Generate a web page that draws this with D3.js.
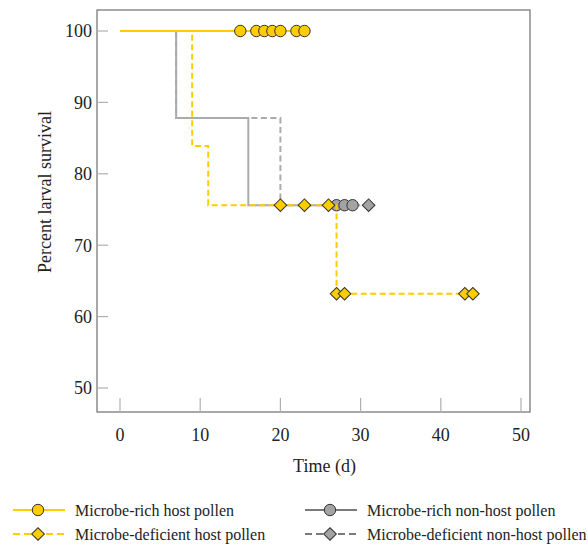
<html>
<head>
<script src="https://d3js.org/d3.v7.min.js"></script>
<style>
  body { margin: 0; background: #fff; }
</style>
</head>
<body>
<svg id="chart" width="588" height="545" font-family="'Liberation Serif', 'Times New Roman', Times, serif"></svg>
<script>
// survival curves: step times and percent surviving after each step
const richHostTimes = [0];
const richHostSurv = [100];
const richHostEnd = 23;
const richHostCensor = [15, 17, 18, 19, 20, 22, 23];

const defHostTimes = [0, 9, 11, 27];
const defHostSurv = [100, 83.9, 75.6, 63.2];
const defHostEnd = 44;
const defHostCensor = [20, 23, 26, 27, 28, 43, 44];

const richNonHostTimes = [0, 7, 16];
const richNonHostSurv = [100, 87.8, 75.6];
const richNonHostEnd = 29;
const richNonHostCensor = [27, 28, 29];

const defNonHostTimes = [0, 7, 20];
const defNonHostSurv = [100, 87.8, 75.6];
const defNonHostEnd = 31;
const defNonHostCensor = [31];

const xTicks = [0, 10, 20, 30, 40, 50];
const yTicks = [50, 60, 70, 80, 90, 100];

const yellow = "#ffcc00";
const grayLine = "#ababab";
const grayFill = "#a3a3a3";
const serif = "'Liberation Serif', 'Times New Roman', Times, serif";

const svg = d3.select("#chart");
const frame = { left: 97, right: 530, top: 10, bottom: 412 };

const x = d3.scaleLinear().domain([0, 50]).range([120, 521]);
const y = d3.scaleLinear().domain([50, 100]).range([388, 31]);

// frame
svg.append("rect")
    .attr("x", frame.left).attr("y", frame.top)
    .attr("width", frame.right - frame.left).attr("height", frame.bottom - frame.top)
    .style("fill", "none").style("stroke", "#7a7a7a").style("stroke-width", 1.3);

// ticks drawn inside the frame
svg.selectAll("line.ytick").data(yTicks).join("line")
    .attr("class", "ytick")
    .attr("x1", frame.left).attr("x2", frame.left + 11)
    .attr("y1", d => y(d)).attr("y2", d => y(d))
    .style("stroke", "#b0b0b0").style("stroke-width", 1.2);
svg.selectAll("text.ylab").data(yTicks).join("text")
    .attr("class", "ylab")
    .attr("x", 92).attr("y", d => y(d)).attr("dy", "0.35em")
    .attr("text-anchor", "end")
    .attr("font-family", serif).attr("font-size", 18).attr("fill", "#222")
    .text(d => d);

svg.selectAll("line.xtick").data(xTicks).join("line")
    .attr("class", "xtick")
    .attr("x1", d => x(d)).attr("x2", d => x(d))
    .attr("y1", frame.bottom).attr("y2", frame.bottom - 14)
    .style("stroke", "#b0b0b0").style("stroke-width", 1.2);
svg.selectAll("text.xlab").data(xTicks).join("text")
    .attr("class", "xlab")
    .attr("x", d => x(d)).attr("y", 441)
    .attr("text-anchor", "middle")
    .attr("font-family", serif).attr("font-size", 18).attr("fill", "#222")
    .text(d => d);

svg.append("text")
    .attr("x", x(25) + 4).attr("y", 472)
    .attr("text-anchor", "middle")
    .attr("font-family", serif).attr("font-size", 18).attr("fill", "#222")
    .text("Time (d)");
svg.append("text")
    .attr("transform", "translate(51,192) rotate(-90)")
    .attr("text-anchor", "middle")
    .attr("font-family", serif).attr("font-size", 18).attr("fill", "#222")
    .text("Percent larval survival");

// helpers
function stepPoints(times, surv, end) {
    const pts = times.map((t, i) => [t, surv[i]]);
    pts.push([end, surv[surv.length - 1]]);
    return pts;
}
function survAt(times, surv, t) {
    let s = surv[0];
    times.forEach((tt, i) => { if (tt <= t) s = surv[i]; });
    return s;
}
const line = d3.line()
    .x(d => x(d[0])).y(d => y(d[1]))
    .curve(d3.curveStepAfter);
const diamond = d3.symbol().type(d3.symbolSquare).size(80);

function drawSeries(times, surv, end, censor, color, dashed, fill, marker) {
    svg.append("path")
        .datum(stepPoints(times, surv, end))
        .attr("d", line)
        .style("fill", "none")
        .style("stroke", color)
        .style("stroke-width", 2)
        .style("stroke-dasharray", dashed ? "6,3.5" : null);
    const pts = censor.map(t => [t, survAt(times, surv, t)]);
    if (marker === "circle") {
        svg.append("g").selectAll("circle").data(pts).join("circle")
            .attr("cx", d => x(d[0])).attr("cy", d => y(d[1])).attr("r", 5.7)
            .style("fill", fill).style("stroke", "#333").style("stroke-width", 1);
    } else {
        svg.append("g").selectAll("path").data(pts).join("path")
            .attr("d", diamond)
            .attr("transform", d => `translate(${x(d[0])},${y(d[1])}) rotate(45)`)
            .style("fill", fill).style("stroke", "#333").style("stroke-width", 1);
    }
}

drawSeries(defNonHostTimes, defNonHostSurv, defNonHostEnd, defNonHostCensor, grayLine, true, grayFill, "diamond");
drawSeries(richNonHostTimes, richNonHostSurv, richNonHostEnd, richNonHostCensor, grayLine, false, grayFill, "circle");
drawSeries(defHostTimes, defHostSurv, defHostEnd, defHostCensor, yellow, true, yellow, "diamond");
drawSeries(richHostTimes, richHostSurv, richHostEnd, richHostCensor, yellow, false, yellow, "circle");

// legend
const legendLabels = ["Microbe-rich host pollen", "Microbe-deficient host pollen",
    "Microbe-rich non-host pollen", "Microbe-deficient non-host pollen"];
const legendColors = [yellow, yellow, "#7a7a7a", "#7a7a7a"];
const legendFills = [yellow, yellow, grayFill, grayFill];
const legendDashed = [false, true, false, true];
const legendMarkers = ["circle", "diamond", "circle", "diamond"];
const legendX = [13, 13, 305, 305];
const legendY = [510, 534, 510, 534];

legendLabels.forEach((lab, i) => {
    const g = svg.append("g").attr("transform", `translate(${legendX[i]},${legendY[i]})`);
    g.append("line").attr("x1", 0).attr("x2", 52).attr("y1", 0).attr("y2", 0)
        .style("stroke", legendColors[i]).style("stroke-width", 2)
        .style("stroke-dasharray", legendDashed[i] ? "7,4" : null);
    if (legendMarkers[i] === "circle") {
        g.append("circle").attr("cx", 25).attr("cy", 0).attr("r", 5.7)
            .style("fill", legendFills[i]).style("stroke", "#333");
    } else {
        g.append("path").attr("d", diamond)
            .attr("transform", "translate(25,0) rotate(45)")
            .style("fill", legendFills[i]).style("stroke", "#333");
    }
    g.append("text").attr("x", 62).attr("y", 0).attr("dy", "0.35em")
        .attr("font-family", serif).attr("font-size", 16).attr("fill", "#222")
        .text(lab);
});
</script>
</body>
</html>
